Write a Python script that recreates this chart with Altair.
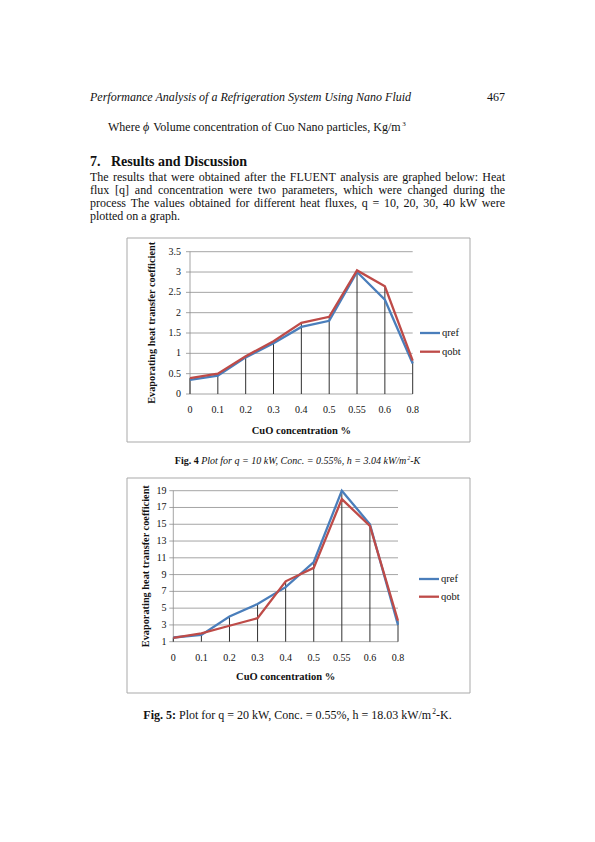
import altair as alt
import pandas as pd

# ---------------- data ----------------
conc = ["0", "0.1", "0.2", "0.3", "0.4", "0.5", "0.55", "0.6", "0.8"]
q10_ref = [0.35, 0.45, 0.90, 1.25, 1.65, 1.80, 3.00, 2.32, 0.75]
q10_obt = [0.39, 0.50, 0.93, 1.30, 1.75, 1.90, 3.04, 2.65, 0.82]
q20_ref = [1.50, 1.80, 4.00, 5.50, 7.50, 10.50, 19.00, 15.00, 3.00]
q20_obt = [1.45, 2.00, 2.90, 3.80, 8.20, 9.80, 18.00, 14.80, 3.50]
ticks10 = [0, 0.5, 1, 1.5, 2, 2.5, 3, 3.5]
ticklab10 = ["0", "0.5", "1", "1.5", "2", "2.5", "3", "3.5"]
ticks20 = [1, 3, 5, 7, 9, 11, 13, 15, 17, 19]
ticklab20 = ["1", "3", "5", "7", "9", "11", "13", "15", "17", "19"]
series = ["qref", "qobt"]

# ---------------- styling / layout helpers ----------------
SERIF = "Liberation Serif"
BLUE = "#4a7ebb"
RED = "#be4b48"
P = 8  # page margin


def X(v):
    return v - P


UP = "ABCDEFGHIJKLMNOPQRSTUVWXYZ"
LO = "abcdefghijklmnopqrstuvwxyz"
W = {
    "regular": dict(zip(UP, [722, 667, 667, 722, 611, 556, 722, 722, 333, 389, 722, 611, 889, 722, 722, 556, 722, 667, 556, 611, 722, 722, 944, 722, 722, 611])),
    "bold": dict(zip(UP, [722, 667, 722, 722, 667, 611, 778, 778, 389, 500, 778, 667, 944, 722, 778, 611, 778, 722, 556, 667, 722, 722, 1000, 722, 722, 667])),
    "italic": dict(zip(UP, [611, 611, 667, 722, 611, 611, 722, 722, 333, 444, 667, 556, 833, 667, 722, 611, 722, 611, 500, 556, 722, 611, 833, 611, 556, 556])),
}
W["regular"].update(zip(LO, [444, 500, 444, 500, 444, 333, 500, 500, 278, 278, 500, 278, 778, 500, 500, 500, 500, 333, 389, 278, 500, 500, 722, 500, 500, 444]))
W["bold"].update(zip(LO, [500, 556, 444, 556, 444, 333, 500, 556, 278, 333, 556, 278, 833, 556, 500, 556, 556, 444, 389, 333, 556, 500, 722, 500, 500, 444]))
W["italic"].update(zip(LO, [500, 500, 444, 500, 444, 278, 500, 500, 278, 278, 444, 278, 722, 500, 500, 500, 500, 389, 389, 278, 500, 444, 667, 444, 444, 389]))
W["regular"].update({" ": 250, ",": 250, ".": 250, ":": 278, ";": 278, "-": 333, "/": 278, "%": 833, "=": 564, "[": 333, "]": 333, "(": 333, ")": 333})
W["bold"].update({" ": 250, ",": 250, ".": 250, ":": 333, "-": 333, "/": 278, "%": 1000, "=": 570})
W["italic"].update({" ": 250, ",": 250, ".": 250, ":": 333, "-": 333, "/": 278, "%": 833, "=": 675, "ϕ": 600})


def tw(s, size, style):
    t = W[style]
    return sum(t.get(c, 500) for c in s) * size / 1000.0


segs = []  # text, x, y, size, style


def add_run(parts, x0, y):
    for txt, style, size, dy in parts:
        lead = len(txt) - len(txt.lstrip(" "))
        body = txt.strip(" ")
        if body:
            segs.append((body, x0 + tw(" " * lead, size, style), y - dy, size, style))
        x0 += tw(txt, size, style)


def run_width(parts):
    return sum(tw(t, s, st) for t, st, s, _ in parts)


def justify(line, x0, x1, y, size, style="regular"):
    words = line.split(" ")
    total = sum(tw(w, size, style) for w in words)
    gap = (x1 - x0 - total) / (len(words) - 1)
    x = x0
    for w in words:
        segs.append((w, x, y, size, style))
        x += tw(w, size, style) + gap


# running header
add_run([("Performance Analysis of a Refrigeration System Using Nano Fluid", "italic", 12, 0)], 90, 101)
segs.append(("467", 505 - tw("467", 12, "regular"), 101, 12, "regular"))
# where-line
add_run([("Where ", "regular", 12, 0), ("ϕ", "italic", 12, 0),
         (" Volume concentration of Cuo Nano particles, Kg/m", "regular", 12, 0),
         ("3", "regular", 7, 5)], 108, 131)
# section heading
segs.append(("7.", 90, 166, 14, "bold"))
segs.append(("Results and Discussion", 90 + tw("7.   ", 14, "bold"), 166, 14, "bold"))
# paragraph
para = [
    "The results that were obtained after the FLUENT analysis are graphed below: Heat",
    "flux [q] and concentration were two parameters, which were changed during the",
    "process The values obtained for different heat fluxes, q = 10, 20, 30, 40 kW were",
]
for i, ln in enumerate(para):
    justify(ln, 90, 505, 181 + 13 * i, 12)
add_run([("plotted on a graph.", "regular", 12, 0)], 90, 220)

# captions
cap1 = [("Fig. 4 ", "bold", 10, 0), ("Plot for q = 10 kW, Conc. = 0.55%, h = 3.04 kW/m", "italic", 10, 0),
        ("2", "italic", 6, 4), ("-K", "italic", 10, 0)]
add_run(cap1, 297.5 - run_width(cap1) / 2, 464)
cap2 = [("Fig. 5:", "bold", 12, 0), (" Plot for q = 20 kW, Conc. = 0.55%, h = 18.03 kW/m", "regular", 12, 0),
        ("2", "regular", 7.5, 5), ("-K.", "regular", 12, 0)]
add_run(cap2, 297.5 - run_width(cap2) / 2, 719)

layers = []


def plot_layers(ref, obt, ticks, ticklabs, g):
    out = []
    df = pd.DataFrame({"conc": conc, "qref": ref, "qobt": obt})
    xs = alt.Scale(type="point", domain=conc, range=[X(g["x0"]), X(g["x1"])], padding=0)
    ys = alt.Scale(domain=[ticks[0], ticks[-1]], range=[X(g["y0"]), X(g["y1"])], nice=False, zero=False)
    xenc = alt.X("conc:N", scale=xs, axis=None)
    one = pd.DataFrame({"k": [0]})
    bx0, bx1, by0, by1 = g["box"]
    out.append(alt.Chart(one).mark_rect(fill="white", stroke="#a9a9a9", strokeWidth=1).encode(
        x=alt.value(X(bx0)), x2=alt.value(X(bx1)), y=alt.value(X(by0)), y2=alt.value(X(by1))))
    tdf = pd.DataFrame({"t": ticks, "lab": ticklabs})
    out.append(alt.Chart(tdf).mark_rule(color="#8e8e8e", strokeWidth=0.8).encode(
        y=alt.Y("t:Q", scale=ys, axis=None), x=alt.value(X(g["x0"] - 4)), x2=alt.value(X(g["x1"]))))
    out.append(alt.Chart(pd.DataFrame({"lo": [ticks[0]], "hi": [ticks[-1]]})).mark_rule(
        color="#8e8e8e", strokeWidth=0.8).encode(
        x=alt.value(X(g["x0"])), y=alt.Y("lo:Q", scale=ys, axis=None), y2="hi:Q"))
    out.append(alt.Chart(tdf).mark_text(align="right", baseline="middle", font=SERIF, fontSize=10,
                                        color="#111").encode(
        y=alt.Y("t:Q", scale=ys, axis=None), x=alt.value(X(g["ylab_x"])), text="lab:N"))
    out.append(alt.Chart(df).transform_calculate(
        top="max(datum.qref, datum.qobt)", base=str(ticks[0])).mark_rule(
        color="#303030", strokeWidth=1).encode(
        x=xenc, y=alt.Y("top:Q", scale=ys, axis=None), y2="base:Q"))
    out.append(alt.Chart(df).mark_line(color=BLUE, strokeWidth=2.3).encode(
        x=xenc, y=alt.Y("qref:Q", scale=ys, axis=None)))
    out.append(alt.Chart(df).mark_line(color=RED, strokeWidth=2.3).encode(
        x=xenc, y=alt.Y("qobt:Q", scale=ys, axis=None)))
    out.append(alt.Chart(df).mark_text(align="center", baseline="middle", font=SERIF, fontSize=10,
                                       color="#111").encode(
        x=xenc, y=alt.value(X(g["xlab_y"])), text="conc:N"))
    out.append(alt.Chart(pd.DataFrame({"t": ["CuO concentration %"]})).mark_text(
        align="center", baseline="middle", font=SERIF, fontSize=10.5, fontWeight="bold", color="#111").encode(
        x=alt.value(X((g["x0"] + g["x1"]) / 2)), y=alt.value(X(g["xt_y"])), text="t:N"))
    out.append(alt.Chart(pd.DataFrame({"t": ["Evaporating heat transfer coefficient"]})).mark_text(
        align="center", baseline="middle", font=SERIF, fontSize=10.3, fontWeight="bold", angle=270,
        color="#111").encode(
        x=alt.value(X(g["yt_x"])), y=alt.value(X((g["y0"] + g["y1"]) / 2)), text="t:N"))
    ls = alt.Scale(type="point", domain=series, range=[X(g["leg_y"][0]), X(g["leg_y"][1])], padding=0)
    cs = alt.Scale(domain=series, range=[BLUE, RED])
    ldf = pd.DataFrame({"series": series})
    out.append(alt.Chart(ldf).mark_rule(strokeWidth=2.3).encode(
        y=alt.Y("series:N", scale=ls, axis=None), x=alt.value(X(g["leg_x"])),
        x2=alt.value(X(g["leg_x"] + 20)), color=alt.Color("series:N", scale=cs, legend=None)))
    out.append(alt.Chart(ldf).mark_text(align="left", baseline="middle", font=SERIF, fontSize=10.5,
                                        color="#111").encode(
        y=alt.Y("series:N", scale=ls, axis=None), x=alt.value(X(g["leg_x"] + 22)), text="series:N"))
    return out


g1 = dict(x0=190, x1=412.7, y0=394, y1=251.7, ylab_x=181, xlab_y=410, xt_y=430.5, yt_x=152,
          leg_x=420, leg_y=(333, 351.7), box=(127, 470, 238, 442))
g2 = dict(x0=173.3, x1=398, y0=641.7, y1=490.7, ylab_x=166.5, xlab_y=658, xt_y=677, yt_x=145.5,
          leg_x=419, leg_y=(579, 596.7), box=(127, 470, 478, 693))

layers += plot_layers(q10_ref, q10_obt, ticks10, ticklab10, g1)
layers += plot_layers(q20_ref, q20_obt, ticks20, ticklab20, g2)

for style in ["regular", "bold", "italic"]:
    rows = [{"t": t, "x": X(x), "y": X(y), "s": s} for t, x, y, s, st in segs if st == style]
    mk = dict(align="left", baseline="alphabetic", font=SERIF, color="#111")
    if style == "bold":
        mk["fontWeight"] = "bold"
    if style == "italic":
        mk["fontStyle"] = "italic"
    layers.append(alt.Chart(pd.DataFrame(rows)).mark_text(**mk).encode(
        x=alt.X("x:Q", scale=None, axis=None), y=alt.Y("y:Q", scale=None, axis=None),
        size=alt.Size("s:Q", scale=None, legend=None), text="t:N"))

chart = alt.layer(*layers).resolve_scale(x="independent", y="independent").properties(
    width=579, height=826, padding=0, autosize=alt.AutoSizeParams(type="none")
).configure_view(stroke=None)

chart.save("out.html", embed_options={"renderer": "svg", "actions": False})
